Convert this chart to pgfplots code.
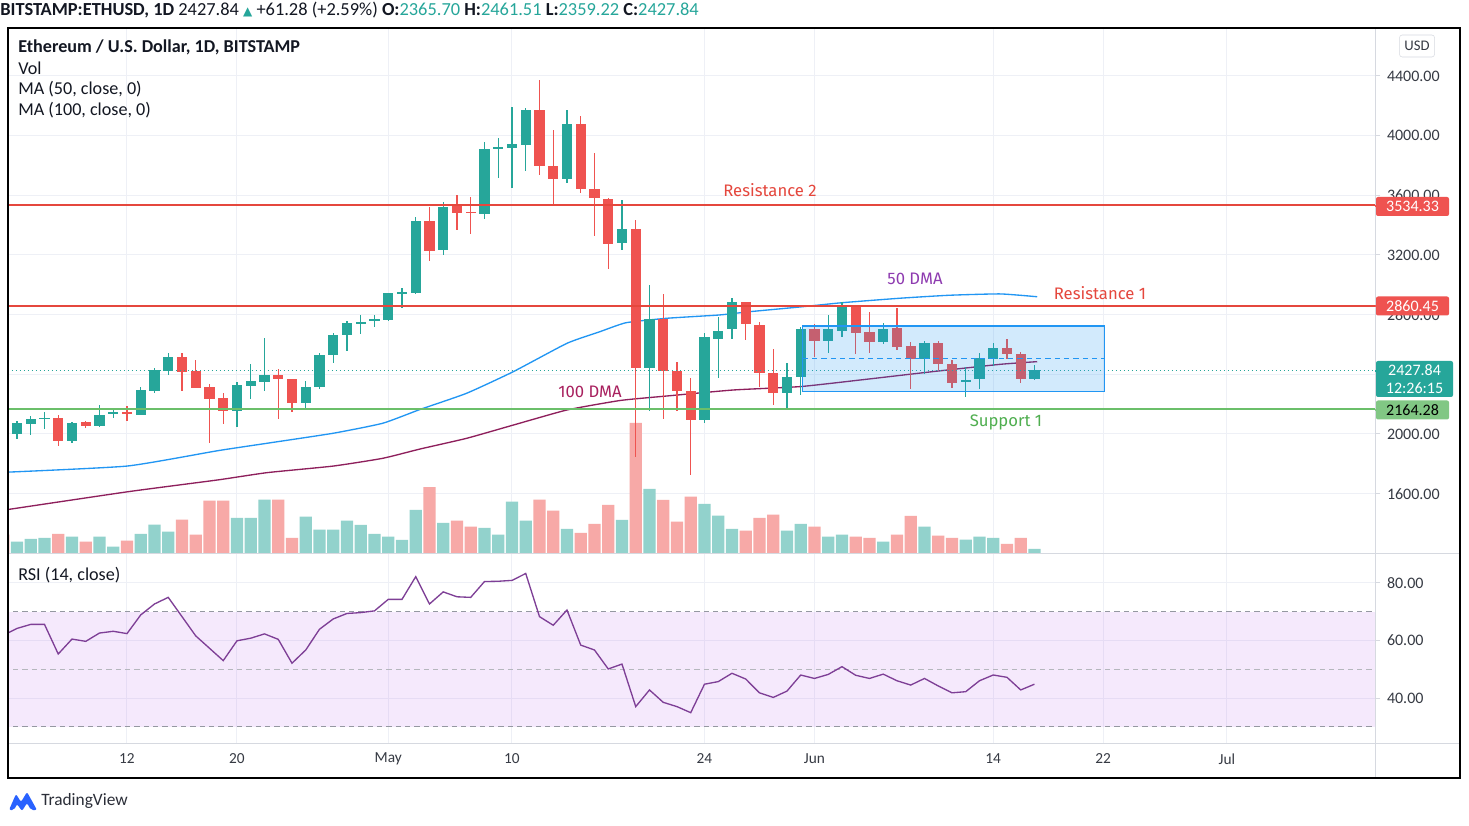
\documentclass[border=0pt]{standalone}
\usepackage{pgfplots}
\pgfplotsset{compat=1.18}
\usepackage{pgfplotstable}
\usepackage{fontspec}
\setmainfont{Carlito}
\newfontfamily\fira{Fira Sans}
\newfontfamily\dejavu{DejaVu Sans}

\definecolor{cgreen}{HTML}{26A69A}
\definecolor{cred}{HTML}{EF5350}
\definecolor{vgreen}{HTML}{92D2CC}
\definecolor{vred}{HTML}{F7A9A7}
\definecolor{maBlue}{HTML}{2196F3}
\definecolor{maHund}{HTML}{8E1F5C}
\definecolor{resRed}{HTML}{E5473D}
\definecolor{supGreen}{HTML}{6BBF6A}
\definecolor{supText}{HTML}{4FAE4F}
\definecolor{dmaText}{HTML}{8E3BB0}
\definecolor{hdmaText}{HTML}{A8205E}
\definecolor{gridc}{HTML}{EEF0F6}
\definecolor{sepc}{HTML}{D6D9E0}
\definecolor{rsiLine}{HTML}{7E3F96}
\definecolor{rsiBand}{RGB}{170,60,230}
\definecolor{boxBlue}{HTML}{2196F3}
\definecolor{txt}{HTML}{131722}
\definecolor{tvblue}{HTML}{2962FF}
\definecolor{lblGreen}{HTML}{81C784}
\definecolor{dashc}{HTML}{9598A1}

% green (up) candles: day index (0 = 1 Apr), open, high, low, close, volume bar height
\pgfplotstableread{
d o h l c v
3 2000 2089 1966 2072 11.5
4 2067 2123 1993 2100 14.2
5 2100 2150 2034 2108 15.2
7 1955 2083 1942 2074 16.5
9 2056 2196 2049 2125 16.5
10 2132 2166 2105 2147 6.5
12 2129 2317 2125 2293 19.2
13 2288 2442 2277 2427 28.5
14 2422 2545 2393 2514 21.5
19 2156 2349 2049 2326 35.2
20 2324 2469 2233 2355 35.2
21 2351 2641 2290 2393 53.5
24 2210 2353 2161 2313 36.5
25 2317 2541 2299 2527 23.5
26 2527 2675 2478 2662 23.5
27 2662 2755 2554 2742 32.5
28 2742 2798 2668 2750 28.2
29 2755 2798 2719 2769 19.2
30 2764 2948 2760 2943 16.5
31 2943 2977 2843 2948 13.2
32 2943 3457 2940 3428 43.2
34 3234 3557 3200 3524 30.2
37 3475 3960 3441 3911 25.2
38 3910 3982 3714 3922 18.5
39 3917 4193 3647 3944 51.5
40 3938 4183 3765 4172 32.5
43 3708 4172 3685 4078 24.2
47 3278 3569 3233 3374 33.2
49 2440 2999 2156 2769 64.2
53 2094 2675 2072 2648 49.2
54 2640 2782 2378 2693 37.5
55 2706 2909 2640 2883 24.2
59 2273 2474 2176 2384 22.5
60 2381 2719 2261 2702 29.2
62 2625 2798 2545 2704 16.5
63 2693 2887 2652 2853 18.5
66 2619 2746 2603 2704 11.5
69 2500 2623 2400 2608 26.5
72 2347 2447 2246 2362 13.5
73 2367 2541 2299 2507 16.5
74 2500 2608 2456 2574 15.2
77 2365.70 2461.51 2359.22 2427.84 4.2
}\greenc

% red (down) candles
\pgfplotstableread{
d o h l c v
2 2130 2145 1955 2010 18.5
6 2105 2130 1918 1955 19.2
8 2078 2090 2040 2056 11.5
11 2147 2188 2089 2132 12.5
15 2514 2545 2288 2418 33.5
16 2420 2496 2305 2310 18.5
17 2315 2335 1942 2233 52.5
18 2241 2273 2067 2156 52.5
22 2393 2434 2099 2367 53.5
23 2367 2370 2150 2210 15.2
33 3428 3524 3162 3229 65.8
35 3528 3602 3368 3484 32.5
36 3490 3591 3341 3480 26.5
41 4172 4373 3736 3799 53.5
42 3797 4036 3535 3712 42.5
44 4078 4134 3618 3641 20.2
45 3645 3881 3330 3580 29.2
46 3575 3584 3104 3272 48.2
48 3372 3435 1848 2440 130.2
50 2769 2938 2098 2424 53.2
51 2424 2485 2156 2290 31.5
52 2286 2373 1723 2094 56.5
56 2883 2885 2630 2736 22.5
57 2729 2753 2317 2407 35.2
58 2407 2568 2194 2273 38.5
61 2704 2737 2518 2625 26.5
64 2858 2860 2536 2679 16.5
65 2682 2820 2545 2619 15.2
67 2708 2843 2563 2585 18.5
68 2590 2619 2299 2500 37.2
70 2608 2625 2429 2468 17.5
71 2468 2496 2310 2344 15.2
75 2574 2637 2500 2536 9.2
76 2534 2550 2340 2366 15.2
}\redc

\pgfplotstableread{
d r
2 61.8
3 64.2
4 65.6
5 65.6
6 55.3
7 60.5
8 59.7
9 62.6
10 63.2
11 62.4
12 68.9
13 72.7
14 75.0
15 68.3
16 61.6
17 57.3
18 53.0
19 59.9
20 60.8
21 62.3
22 60.4
23 52.1
24 56.7
25 63.9
26 67.5
27 69.4
28 69.7
29 70.3
30 74.3
31 74.3
32 82.2
33 72.7
34 76.9
35 75.2
36 75.0
37 80.5
38 80.6
39 80.9
40 83.3
41 68.3
42 65.3
43 70.6
44 58.4
45 56.7
46 50.1
47 51.8
48 37.0
49 42.8
50 38.5
51 37.0
52 34.9
53 44.8
54 45.7
55 48.6
56 46.6
57 41.8
58 40.2
59 42.4
60 48.0
61 46.8
62 48.2
63 50.9
64 47.9
65 46.8
66 48.3
67 46.0
68 44.5
69 46.8
70 44.2
71 41.8
72 42.2
73 46.0
74 48.0
75 47.2
76 42.8
77 44.8
}\rsi

\pgfplotsset{
  tvbase/.style={scale only axis, width=1025.25pt, xmin=2.3455, xmax=101.764, clip=true},
  pricey/.style={at={(6pt,204pt)}, anchor=south west, height=393pt, ymin=1202.2, ymax=4715},
  candle/.style 2 args={draw=none, mark=none, error bars/.cd, y dir=both, y explicit, error mark=none,
     error bar style={line width=#1, draw=#2}},
}

\begin{document}
\begin{tikzpicture}
\useasboundingbox (0,0) rectangle (1101.75pt,618.75pt);
\fill[white] (0,0) rectangle (1101.75pt,618.75pt);

% ---------- price pane: grid and right scale ----------
\begin{axis}[tvbase, pricey,
  axis line style={draw=none},
  xtick={11,19,30,39,53,61,74,82,91}, xmajorticks=false, xmajorgrids=true,
  ytick={1600,2000,2400,2800,3200,3600,4000,4400},
  yticklabels={1600.00,2000.00,,2800.00,3200.00,3600.00,4000.00,4400.00},
  ytick pos=right, yticklabel pos=right, ymajorgrids=true,
  ytick style={draw=sepc, line width=0.75pt}, tick align=outside, major tick length=4pt,
  grid style={draw=gridc, line width=0.75pt},
  yticklabel style={font=\fontsize{12}{12}\selectfont, text=txt!85, anchor=west, xshift=1.5pt}]
\end{axis}

% ---------- volume ----------
\begin{axis}[tvbase, at={(6pt,204pt)}, anchor=south west, height=393pt, ymin=0, ymax=524, hide axis]
\addplot[ybar, bar width=0.9, bar shift=0pt, fill=vgreen, draw=none] table[x=d,y=v]{\greenc};
\addplot[ybar, bar width=0.9, bar shift=0pt, fill=vred, draw=none] table[x=d,y=v]{\redc};
\end{axis}

% ---------- price plots ----------
\begin{axis}[tvbase, pricey, hide axis]
% MA 50
\addplot[maBlue, line width=1pt, smooth, tension=0.3] coordinates {
(2,1743) (11,1785) (17.6,1888) (21.2,1938) (26,2005) (29.6,2072) (32.3,2164) (35.7,2273)
(39.1,2418) (43,2608) (45.4,2686) (47.3,2746) (50.3,2776) (54.1,2798) (56.3,2820) (60,2852)
(63,2880) (67.2,2910) (70.8,2930) (74.5,2939) (77.2,2920)};
% MA 100
\addplot[maHund, line width=1pt, smooth, tension=0.3] coordinates {
(2,1489) (11.07,1613) (17.6,1692) (21.2,1741) (26,1785) (29.6,1837) (32.3,1899) (35.7,1971)
(39.1,2060) (43,2161) (46.9,2225) (50.3,2255) (55.1,2295) (60,2318) (64.8,2367) (69.6,2418)
(74.5,2467) (77.2,2485)};
% wicks
\addplot[candle={0.8pt}{cgreen}]
  table[x=d, y expr={(\thisrow{h}+\thisrow{l})/2}, y error expr={(\thisrow{h}-\thisrow{l})/2}]{\greenc};
\addplot[candle={0.8pt}{cred}]
  table[x=d, y expr={(\thisrow{h}+\thisrow{l})/2}, y error expr={(\thisrow{h}-\thisrow{l})/2}]{\redc};
% bodies
\addplot[candle={7.8pt}{cgreen}]
  table[x=d, y expr={(\thisrow{o}+\thisrow{c})/2}, y error expr={max(abs(\thisrow{c}-\thisrow{o})/2,4)}]{\greenc};
\addplot[candle={7.8pt}{cred}]
  table[x=d, y expr={(\thisrow{o}+\thisrow{c})/2}, y error expr={max(abs(\thisrow{c}-\thisrow{o})/2,4)}]{\redc};
% drawings
\draw[cgreen, line width=0.8pt, dash pattern=on 1pt off 2pt] (axis cs:0,2427.84) -- (axis cs:110,2427.84);
\draw[resRed, line width=1.5pt] (axis cs:0,3534.33) -- (axis cs:110,3534.33);
\draw[resRed, line width=1.5pt] (axis cs:0,2860.45) -- (axis cs:110,2860.45);
\draw[supGreen, line width=1.5pt] (axis cs:0,2164.28) -- (axis cs:110,2164.28);
\fill[boxBlue, fill opacity=0.2] (axis cs:60.15,2282) rectangle (axis cs:82.1,2724);
\draw[boxBlue, line width=0.8pt] (axis cs:60.15,2282) rectangle (axis cs:82.1,2724);
\draw[boxBlue, line width=0.8pt, dash pattern=on 4pt off 3pt] (axis cs:60.15,2503) -- (axis cs:82.1,2503);
\end{axis}

% ---------- RSI pane ----------
\begin{axis}[tvbase, at={(6pt,61.5pt)}, anchor=south west, height=142.5pt, ymin=24.35, ymax=90.43,
  axis line style={draw=none},
  xtick={11,19,30,39,53,61,74,82,91}, xticklabels={12,20,May,10,24,Jun,14,22,Jul},
  xtick style={draw=none},
  xticklabel style={font=\fontsize{11.5}{12}\selectfont, text=txt!85, anchor=center, yshift=-8pt},
  ytick={40,60,80}, yticklabels={40.00,60.00,80.00}, ytick pos=right, yticklabel pos=right,
  ytick style={draw=sepc, line width=0.75pt}, tick align=outside, major tick length=4pt,
  grid=major, grid style={draw=gridc, line width=0.75pt},
  yticklabel style={font=\fontsize{12}{12}\selectfont, text=txt!85, anchor=west, xshift=1.5pt}]
\fill[rsiBand, fill opacity=0.11] (axis cs:0,30) rectangle (axis cs:110,70);
\draw[dashc, line width=0.75pt, dash pattern=on 4pt off 3pt] (axis cs:0,70) -- (axis cs:110,70);
\draw[dashc!70, line width=0.75pt, dash pattern=on 4pt off 3pt] (axis cs:0,50) -- (axis cs:110,50);
\draw[dashc, line width=0.75pt, dash pattern=on 4pt off 3pt] (axis cs:0,30) -- (axis cs:110,30);
\addplot[rsiLine, line width=1pt] table[x=d,y=r]{\rsi};
\end{axis}

% ---------- overlay in pixel coordinates ----------
\begin{scope}[x=0.75pt, y=-0.75pt, yshift=618.75pt]
% separators and frame
\draw[sepc, line width=0.75pt] (1375,28) -- (1375,778);
\draw[sepc, line width=0.75pt] (8,553) -- (1460,553);
\draw[sepc, line width=0.75pt] (8,743) -- (1460,743);
\draw[black, line width=1.1pt] (8,28) rectangle (1460,778);

% header
\node[anchor=west, inner sep=0, text=txt, font=\fontsize{13.8}{15}\selectfont] at (0,10)
 {\textbf{BITSTAMP:ETHUSD, 1D} 2427.84 {\dejavu\fontsize{9}{9}\selectfont\color{cgreen}▲} +61.28 (+2.59\%)
  \textbf{O:}{\color{cgreen}2365.70} \textbf{H:}{\color{cgreen}2461.51} \textbf{L:}{\color{cgreen}2359.22} \textbf{C:}{\color{cgreen}2427.84}};

% legend
\begin{scope}[every node/.style={anchor=west, inner sep=0, text=txt, font=\fontsize{13.6}{15}\selectfont}]
\node at (18,47) {\textbf{Ethereum / U.S. Dollar, 1D, BITSTAMP}};
\node at (18,68) {Vol};
\node at (18,89) {MA (50, close, 0)};
\node at (18,110) {MA (100, close, 0)};
\node at (18,575) {RSI (14, close)};
\end{scope}

% drawing labels
\node[text=resRed, font=\fira\fontsize{12.5}{13}\selectfont] at (770,190) {Resistance 2};
\node[text=resRed, font=\fira\fontsize{12.5}{13}\selectfont] at (1100,293) {Resistance 1};
\node[text=supText, font=\fira\fontsize{12.5}{13}\selectfont] at (1006,422) {Support 1};
\node[text=dmaText, font=\fira\fontsize{12.5}{13}\selectfont] at (915,279) {50 DMA};
\node[text=hdmaText, font=\fira\fontsize{12.5}{13}\selectfont] at (590,392) {100 DMA};

% scale labels
\node[draw=sepc, rounded corners=2pt, minimum width=26.25pt, minimum height=16.5pt, inner sep=0,
  text=txt!85, font=\fontsize{11}{11}\selectfont] at (1417,46) {USD};
\begin{scope}[every node/.style={inner sep=0, rounded corners=1.5pt, font=\fontsize{12}{13.5}\selectfont}]
\node[fill=cred, text=white, minimum width=54.75pt, minimum height=14.25pt] at (1412.5,206.5) {3534.33};
\node[fill=cred, text=white, minimum width=54.75pt, minimum height=14.25pt] at (1412.5,306) {2860.45};
\node[fill=cgreen, text=white, minimum width=57.75pt, minimum height=27pt, align=center] at (1414.5,379) {2427.84\\12:26:15};
\node[fill=lblGreen, text=black, minimum width=54.75pt, minimum height=14.25pt] at (1412.5,410) {2164.28};
\end{scope}
\draw[cred, line width=1pt] (1375,206) -- (1381,206);
\draw[cred, line width=1pt] (1375,306) -- (1381,306);
\draw[cgreen, line width=1pt] (1375,371) -- (1381,371);
\draw[lblGreen, line width=1pt] (1375,410) -- (1381,410);

% TradingView logo
\fill[tvblue, rounded corners=1.5pt] (9,810) -- (16,794) -- (21,802) -- (27,792) -- (37,810) -- (31,810) -- (27,803) -- (22,811) -- (17,804) -- (14,810) -- cycle;
\node[anchor=west, inner sep=0, text=txt!90, font=\fontsize{13}{14}\selectfont] at (41,801) {TradingView};
\end{scope}
\end{tikzpicture}
\end{document}
